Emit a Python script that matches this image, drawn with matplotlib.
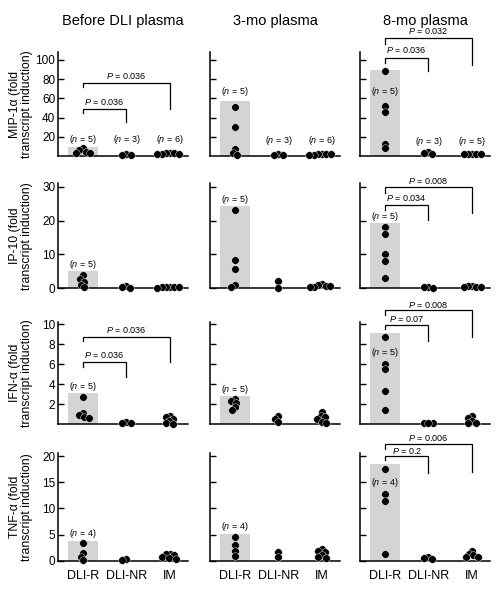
import numpy as np
import matplotlib
matplotlib.use("Agg")
import matplotlib.pyplot as plt

plt.rcParams['font.family'] = ['Liberation Sans', 'DejaVu Sans']
plt.rcParams['mathtext.fontset'] = 'custom'
plt.rcParams['mathtext.it'] = 'Liberation Sans:italic'
plt.rcParams['mathtext.rm'] = 'Liberation Sans'

# ---------------- data ----------------
categories = ['DLI-R', 'DLI-NR', 'IM']
col_titles = ['Before DLI plasma', '3-mo plasma', '8-mo plasma']
row_labels = ['MIP-1\u03b1 (fold\ntranscript induction)',
              'IP-10 (fold\ntranscript induction)',
              'IFN-\u03b1 (fold\ntranscript induction)',
              'TNF-\u03b1 (fold\ntranscript induction)']
row_ylim = [108.3, 31.1, 10.2, 20.6]
row_ticks = [[20, 40, 60, 80, 100], [0, 10, 20, 30], [2, 4, 6, 8, 10], [0, 5, 10, 15, 20]]

# bar heights for DLI-R group [row][col]
bar_heights = [[9.7, 57.0, 90.0],
               [5.1, 24.3, 19.4],
               [3.1, 2.8, 9.1],
               [3.8, 5.2, 18.5]]

# individual points [row][col] -> (DLI-R, DLI-NR, IM)
mip_before = ([8, 6, 4.5, 3.5, 3], [2, 1.5, 1], [3.5, 3, 2.8, 2.5, 2.2, 2])
mip_3mo = ([51, 30, 7, 3, 1], [2.5, 1.5, 1], [2.5, 2.2, 2, 1.8, 1.5, 1.2])
mip_8mo = ([88, 52, 46, 13, 8], [4, 3, 2], [2.5, 2.5, 2.2, 2, 2])
ip10_before = ([3.8, 2.8, 2.0, 1.0, 0.3], [0.8, 0.4, 0.2], [0.5, 0.4, 0.4, 0.3, 0.3, 0.2])
ip10_3mo = ([23.1, 8.3, 5.7, 1.0, 0.3], [2.1, 0.1], [1.2, 0.9, 0.8, 0.6, 0.5, 0.4])
ip10_8mo = ([18.0, 15.9, 10.0, 8.0, 2.9], [0.4, 0.3, 0.2], [0.7, 0.6, 0.5, 0.5, 0.4])
ifn_before = ([2.7, 1.1, 0.9, 0.7, 0.6], [0.2, 0.1, 0.1], [0.8, 0.7, 0.5, 0.3, 0.1, 0.05])
ifn_3mo = ([2.5, 2.3, 2.1, 1.7, 1.4], [0.8, 0.5, 0.2], [1.2, 0.8, 0.7, 0.5, 0.2, 0.1])
ifn_8mo = ([8.7, 6.0, 5.5, 3.3, 1.4], [0.1, 0.1, 0.1], [0.8, 0.6, 0.3, 0.1, 0.1])
tnf_before = ([3.3, 1.5, 0.8, 0.1], [0.3, 0.2], [1.3, 1.2, 1.0, 0.8, 0.5, 0.3])
tnf_3mo = ([4.5, 3.0, 1.9, 0.9], [1.7, 0.8], [2.2, 1.9, 1.6, 1.0, 0.8, 0.5])
tnf_8mo = ([17.6, 12.7, 11.5, 1.3], [0.8, 0.5, 0.4], [1.8, 1.2, 1.0, 0.8, 0.7])
points = [[mip_before, mip_3mo, mip_8mo],
          [ip10_before, ip10_3mo, ip10_8mo],
          [ifn_before, ifn_3mo, ifn_8mo],
          [tnf_before, tnf_3mo, tnf_8mo]]

# n labels: (row, col, group, text, y)
n_labels = [(0, 0, 0, '5', 17.7), (0, 0, 1, '3', 17.7), (0, 0, 2, '6', 17.7),
            (0, 1, 0, '5', 67), (0, 1, 1, '3', 16), (0, 1, 2, '6', 16),
            (0, 2, 0, '5', 67), (0, 2, 1, '3', 15), (0, 2, 2, '5', 15),
            (1, 0, 0, '5', 6.9), (1, 1, 0, '5', 26.2), (1, 2, 0, '5', 21.1),
            (2, 0, 0, '5', 3.8), (2, 1, 0, '5', 3.5), (2, 2, 0, '5', 7.2),
            (3, 0, 0, '4', 5.2), (3, 1, 0, '4', 6.5), (3, 2, 0, '4', 15.0)]

# brackets: (row, col, target group, y_horizontal, left leg end, right leg end, text y, P text)
brackets = [(0, 0, 1, 49, 45, 35, 56.6, '0.036'),
            (0, 0, 2, 76, 71.5, 48.6, 83, '0.036'),
            (0, 2, 1, 102, 97, 88, 110, '0.036'),
            (0, 2, 2, 122.6, 117, 95, 130, '0.032'),
            (1, 2, 1, 24.6, 23.1, 20.1, 26.8, '0.034'),
            (1, 2, 2, 30.0, 28.2, 22.1, 31.7, '0.008'),
            (2, 0, 1, 6.2, 5.7, 4.7, 6.9, '0.036'),
            (2, 0, 2, 8.7, 8.3, 6.2, 9.4, '0.036'),
            (2, 2, 1, 9.9, 9.5, 8.3, 10.5, '0.07'),
            (2, 2, 2, 11.4, 10.9, 8.7, 11.9, '0.008'),
            (3, 2, 1, 20.0, 19.2, 16.7, 20.9, '0.2'),
            (3, 2, 2, 22.3, 21.3, 17.0, 23.4, '0.006')]

# ---------------- layout ----------------
W, H = 498, 591
fig = plt.figure(figsize=(W / 100, H / 100), dpi=100)
col_left = [58, 210, 360]
col_w = 130
row_tb = [(52, 156), (183, 288.3), (322, 424.3), (453, 560.7)]
XLIM = (-0.57, 2.41)
BAR_W = 0.69
DOT_D = 4.3  # px spacing for swarm


def swarm(vals, x0, xscale, yscale):
    order = np.argsort(vals)[::-1]
    placed = []
    xs = np.zeros(len(vals))
    for i in order:
        y = vals[i] * yscale
        cands = [0.0]
        for (px, py) in placed:
            dy = abs(py - y)
            if dy < DOT_D:
                dx = np.sqrt(DOT_D ** 2 - dy ** 2)
                cands += [px - dx, px + dx]
        cands = sorted(cands, key=lambda c: (abs(c), c))
        for c in cands:
            ok = True
            for (px, py) in placed:
                if (px - c) ** 2 + (py - y) ** 2 < DOT_D ** 2 - 1e-6:
                    ok = False
                    break
            if ok:
                break
        placed.append((c, y))
        xs[i] = x0 + c / xscale
    return xs


axes = []
for r in range(4):
    top, bot = row_tb[r]
    for c in range(3):
        ax = fig.add_axes([col_left[c] / W, 1 - bot / H, col_w / W, (bot - top) / H])
        axes.append(ax)
        ax.set_xlim(*XLIM)
        ax.set_ylim(0, row_ylim[r])
        for s in ['top', 'right']:
            ax.spines[s].set_visible(False)
        for s in ['left', 'bottom']:
            ax.spines[s].set_linewidth(1.1)
        ax.set_yticks(row_ticks[r])
        ax.tick_params(axis='y', direction='in', length=4, width=1.0, pad=2, labelsize=8.5)
        if c > 0:
            ax.set_yticklabels([])
        ax.set_xticks(range(3))
        ax.tick_params(axis='x', length=0, pad=7, labelsize=9)
        if r < 3:
            ax.set_xticklabels([])
        else:
            ax.set_xticklabels(categories)

        ax.bar(0, bar_heights[r][c], width=BAR_W, color='#d4d4d4', zorder=1)
        xscale = col_w / (XLIM[1] - XLIM[0])
        yscale = (bot - top) / row_ylim[r]
        for g in range(3):
            vals = np.array(points[r][c][g], dtype=float)
            xs = swarm(vals, g, xscale, yscale)
            ax.scatter(xs, vals, s=30, color='black', edgecolors='white',
                       linewidths=0.3, zorder=3, clip_on=False)

        if r == 0:
            ax.set_title(col_titles[c], fontsize=10.5, pad=0, y=1 + (top - 20) / (bot - top) - 0.045)

for (r, c, g, t, y) in n_labels:
    ax = axes[r * 3 + c]
    ax.text(g, y, '($\\it{n}$ = %s)' % t, ha='center', va='center', fontsize=6.5)

for (r, c, g, yh, yl, yr, ty, p) in brackets:
    ax = axes[r * 3 + c]
    ax.plot([0, 0, g, g], [yl, yh, yh, yr], color='black', lw=0.9,
            clip_on=False, solid_joinstyle='miter')
    ax.text(g / 2, ty, '$\\it{P}$ = %s' % p, ha='center', va='center', fontsize=6.5,
            clip_on=False)

for r in range(4):
    top, bot = row_tb[r]
    fig.text(21 / W, 1 - (top + bot) / 2 / H, row_labels[r], rotation=90,
             ha='center', va='center', multialignment='center', fontsize=8.8,
             linespacing=1.1)

fig.savefig('out.png', dpi=100)
